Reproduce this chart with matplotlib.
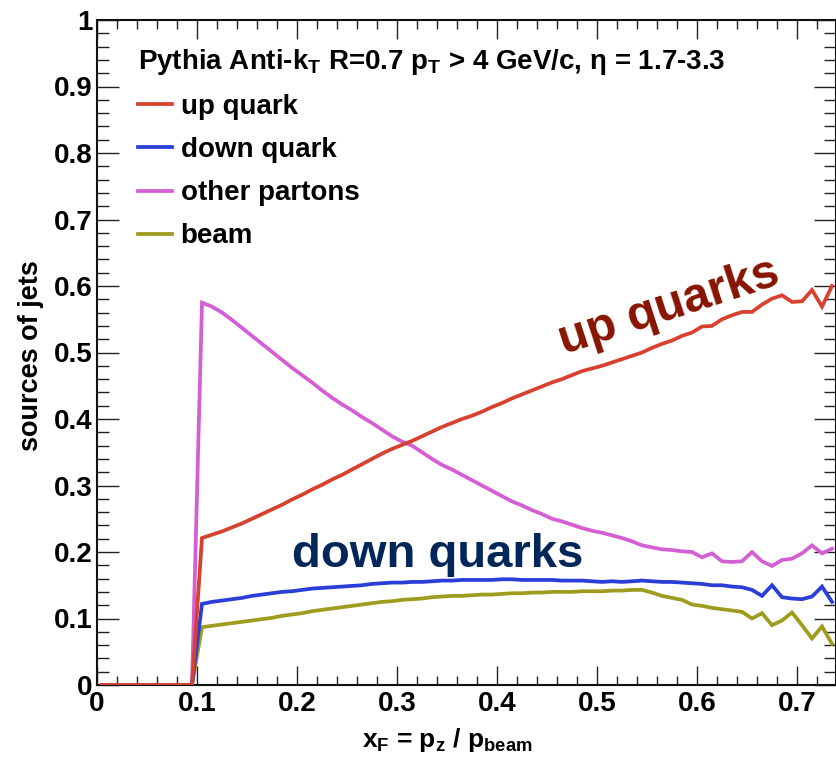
import matplotlib
matplotlib.use("Agg")
import matplotlib.pyplot as plt
from matplotlib.ticker import FixedLocator, MultipleLocator, FixedFormatter

plt.rcParams['font.family'] = ['Liberation Sans', 'DejaVu Sans']
plt.rcParams['font.weight'] = 'bold'
plt.rcParams['mathtext.fontset'] = 'custom'
plt.rcParams['mathtext.rm'] = 'Liberation Sans:bold'
plt.rcParams['mathtext.it'] = 'Liberation Sans:bold:italic'
plt.rcParams['mathtext.bf'] = 'Liberation Sans:bold'

# ---------------- data (bin centres, fractions) ----------------
x_f = [0.005, 0.015, 0.025, 0.035, 0.045, 0.055, 0.065, 0.075, 0.085, 0.095,
       0.105, 0.115, 0.125, 0.135, 0.145, 0.155, 0.165, 0.175, 0.185, 0.195,
       0.205, 0.215, 0.225, 0.235, 0.245, 0.255, 0.265, 0.275, 0.285, 0.295,
       0.305, 0.315, 0.325, 0.335, 0.345, 0.355, 0.365, 0.375, 0.385, 0.395,
       0.405, 0.415, 0.425, 0.435, 0.445, 0.455, 0.465, 0.475, 0.485, 0.495,
       0.505, 0.515, 0.525, 0.535, 0.545, 0.555, 0.565, 0.575, 0.585, 0.595,
       0.605, 0.615, 0.625, 0.635, 0.645, 0.655, 0.665, 0.675, 0.685, 0.695,
       0.705, 0.715, 0.725, 0.735]

up_quark = [0, 0, 0, 0, 0, 0, 0, 0, 0, 0,
            0.221, 0.226, 0.231, 0.237, 0.243, 0.250, 0.257, 0.264, 0.271, 0.279,
            0.286, 0.294, 0.301, 0.309, 0.316, 0.324, 0.332, 0.340, 0.348, 0.355,
            0.361, 0.367, 0.374, 0.381, 0.388, 0.394, 0.400, 0.405, 0.411, 0.418,
            0.424, 0.431, 0.437, 0.443, 0.449, 0.455, 0.460, 0.466, 0.472, 0.476,
            0.480, 0.485, 0.490, 0.495, 0.500, 0.507, 0.513, 0.518, 0.525, 0.530,
            0.539, 0.540, 0.550, 0.556, 0.561, 0.561, 0.572, 0.581, 0.586, 0.576,
            0.577, 0.594, 0.569, 0.600]

down_quark = [0, 0, 0, 0, 0, 0, 0, 0, 0, 0,
              0.122, 0.125, 0.127, 0.129, 0.131, 0.134, 0.136, 0.138, 0.140, 0.141,
              0.143, 0.145, 0.146, 0.147, 0.148, 0.149, 0.150, 0.152, 0.153, 0.154,
              0.154, 0.155, 0.155, 0.156, 0.157, 0.157, 0.158, 0.158, 0.158, 0.158,
              0.159, 0.159, 0.158, 0.158, 0.158, 0.158, 0.157, 0.157, 0.157, 0.156,
              0.155, 0.156, 0.155, 0.156, 0.157, 0.156, 0.155, 0.155, 0.154, 0.153,
              0.152, 0.150, 0.150, 0.148, 0.147, 0.143, 0.134, 0.150, 0.132, 0.130,
              0.129, 0.133, 0.148, 0.125]

other_partons = [0, 0, 0, 0, 0, 0, 0, 0, 0, 0,
                 0.575, 0.569, 0.560, 0.549, 0.537, 0.525, 0.513, 0.501, 0.489, 0.477,
                 0.466, 0.455, 0.443, 0.432, 0.422, 0.413, 0.403, 0.394, 0.384, 0.374,
                 0.366, 0.360, 0.350, 0.340, 0.331, 0.324, 0.316, 0.308, 0.300, 0.292,
                 0.284, 0.276, 0.270, 0.263, 0.257, 0.250, 0.246, 0.241, 0.236, 0.232,
                 0.229, 0.225, 0.221, 0.216, 0.210, 0.207, 0.204, 0.203, 0.201, 0.200,
                 0.192, 0.198, 0.186, 0.185, 0.186, 0.200, 0.186, 0.179, 0.188, 0.190,
                 0.198, 0.210, 0.198, 0.205]

beam = [0, 0, 0, 0, 0, 0, 0, 0, 0, 0,
        0.087, 0.089, 0.091, 0.093, 0.095, 0.097, 0.099, 0.101, 0.104, 0.106,
        0.108, 0.111, 0.113, 0.115, 0.117, 0.119, 0.121, 0.123, 0.125, 0.126,
        0.128, 0.129, 0.130, 0.132, 0.133, 0.134, 0.134, 0.135, 0.136, 0.136,
        0.137, 0.138, 0.138, 0.139, 0.139, 0.140, 0.140, 0.140, 0.141, 0.141,
        0.141, 0.142, 0.142, 0.143, 0.143, 0.139, 0.134, 0.131, 0.128, 0.121,
        0.119, 0.116, 0.114, 0.112, 0.110, 0.100, 0.108, 0.090, 0.097, 0.109,
        0.090, 0.070, 0.088, 0.062]

series_labels = ["up quark", "down quark", "other partons", "beam"]
x_ticks = [0, 0.1, 0.2, 0.3, 0.4, 0.5, 0.6, 0.7]
x_tick_labels = ["0", "0.1", "0.2", "0.3", "0.4", "0.5", "0.6", "0.7"]
y_ticks = [0, 0.1, 0.2, 0.3, 0.4, 0.5, 0.6, 0.7, 0.8, 0.9, 1.0]
y_tick_labels = ["0", "0.1", "0.2", "0.3", "0.4", "0.5", "0.6", "0.7", "0.8", "0.9", "1"]

# ---------------- figure ----------------
W, H = 836, 765
fig = plt.figure(figsize=(W / 100, H / 100), dpi=100)
ax = fig.add_axes([97 / W, 80 / H, 739 / W, 665 / H])

c_up = '#D8412F'
c_down = '#2A3ED8'
c_other = '#D45FD4'
c_beam = '#9E9C1F'
lw = 2.7
fs = 20

l_beam, = ax.plot(x_f, beam, color=c_beam, lw=lw, solid_joinstyle='miter', zorder=2)
l_other, = ax.plot(x_f, other_partons, color=c_other, lw=lw, solid_joinstyle='miter', zorder=3)
l_down, = ax.plot(x_f, down_quark, color=c_down, lw=lw, solid_joinstyle='miter', zorder=4)
l_up, = ax.plot(x_f, up_quark, color=c_up, lw=lw, solid_joinstyle='miter', zorder=5)

ax.set_xlim(0, 0.739)
ax.set_ylim(0, 1)

ax.xaxis.set_major_locator(FixedLocator(x_ticks))
ax.xaxis.set_major_formatter(FixedFormatter(x_tick_labels))
ax.xaxis.set_minor_locator(MultipleLocator(0.02))
ax.yaxis.set_major_locator(FixedLocator(y_ticks))
ax.yaxis.set_major_formatter(FixedFormatter(y_tick_labels))
ax.yaxis.set_minor_locator(MultipleLocator(0.02))

ax.tick_params(axis='both', which='both', direction='in', top=True, right=True,
               width=1.0, colors='#222222', labelcolor='black')
ax.tick_params(axis='x', which='major', length=13.5, pad=4, labelsize=fs)
ax.tick_params(axis='x', which='minor', length=6.7)
ax.tick_params(axis='y', which='major', length=15.5, pad=3.0, labelsize=fs)
ax.tick_params(axis='y', which='minor', length=8.4)
for lab in ax.get_xticklabels() + ax.get_yticklabels():
    lab.set_fontweight('bold')
for s in ax.spines.values():
    s.set_linewidth(1.5)
    s.set_color('#111111')

# axis titles
ax.set_ylabel("sources of jets", fontsize=19.5, fontweight='bold')
ax.yaxis.set_label_coords(-0.072, 0.496)
fig.text(447 / W, 18 / H, r"x$_\mathrm{F}$ = p$_\mathrm{z}$ / p$_\mathrm{beam}$",
         ha='center', va='baseline', fontsize=19, fontweight='bold')

# legend with header
leg = ax.legend([l_up, l_down, l_other, l_beam], series_labels,
                loc='upper left', bbox_to_anchor=(0.055, 0.960),
                frameon=False, fontsize=fs, borderpad=0, borderaxespad=0,
                handlelength=1.25, handletextpad=0.3, labelspacing=0.62,
                title=r"Pythia Anti-k$_\mathrm{T}$ R=0.7 p$_\mathrm{T}$ > 4 GeV/c, η = 1.7-3.3",
                title_fontsize=fs, alignment='left')
leg.get_title().set_fontweight('bold')
for t in leg.get_texts():
    t.set_fontweight('bold')

# annotations
ax.text(0.467, 0.497, "up quarks", rotation=18, rotation_mode='anchor',
        ha='left', va='baseline', fontsize=34.5, fontweight='bold', color='#871400')
ax.text(0.195, 0.178, "down quarks", ha='left', va='baseline',
        fontsize=34, fontweight='bold', color='#00265A')

fig.savefig("out.png", dpi=100)
